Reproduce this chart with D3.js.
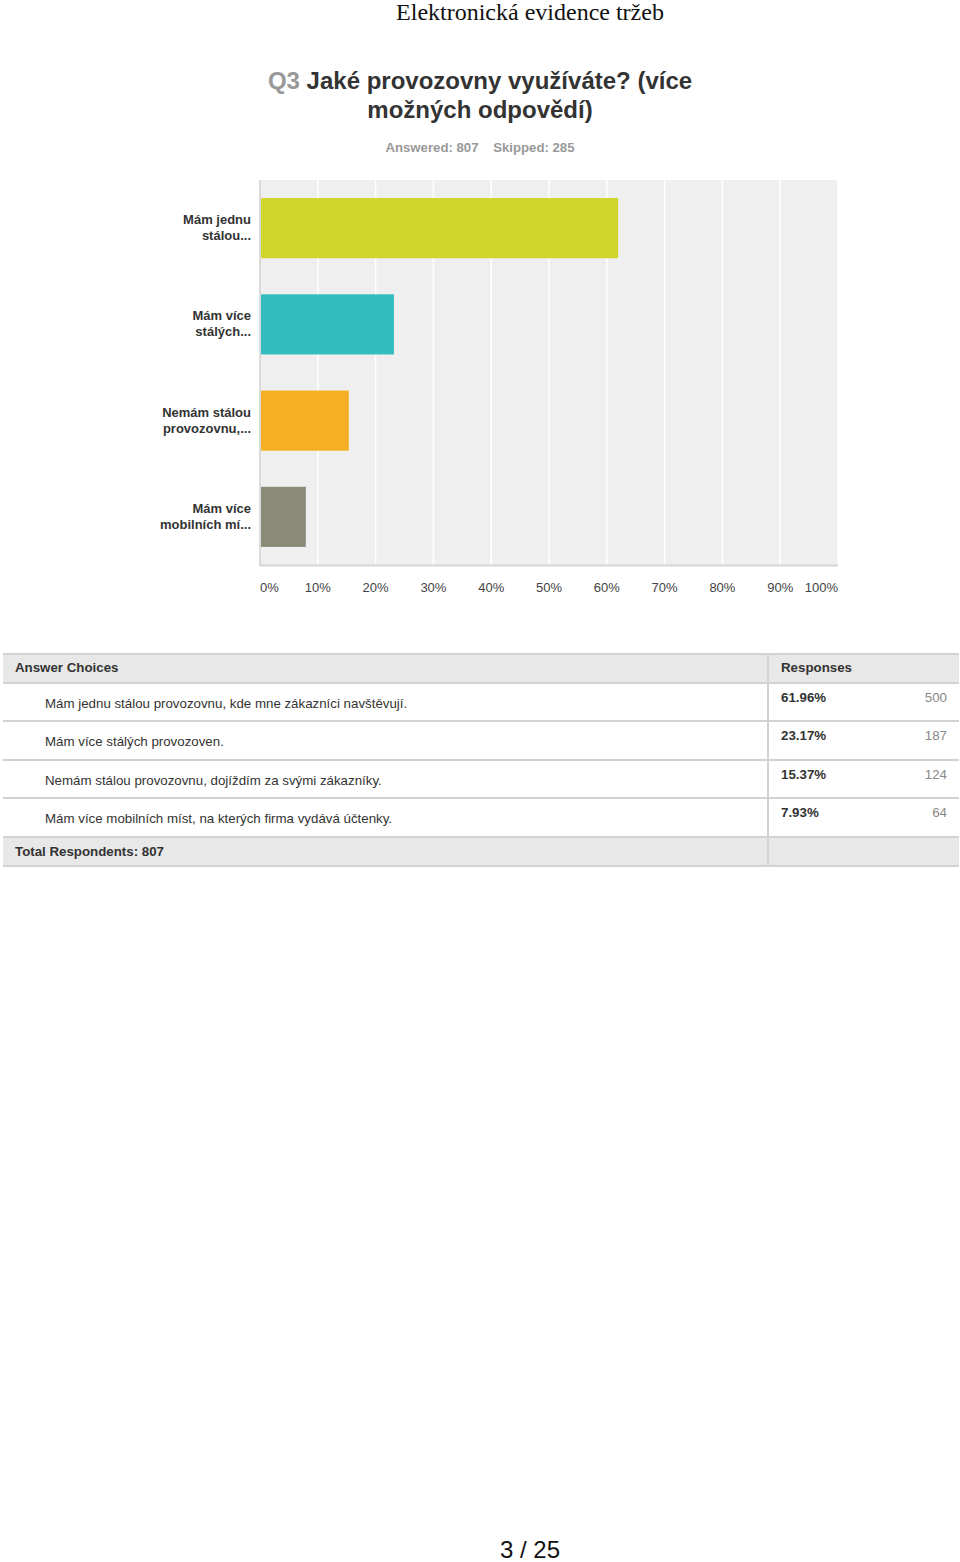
<!DOCTYPE html>
<html><head><meta charset="utf-8">
<script src="https://cdn.jsdelivr.net/npm/d3@7"></script>
<style>body{margin:0;background:#fff}svg{display:block}</style>
</head><body>
<script>
const categories = ["Mám jednu stálou...", "Mám více stálých...", "Nemám stálou provozovnu,...", "Mám více mobilních mí..."];
const labelLines = [["Mám jednu","stálou..."],["Mám více","stálých..."],["Nemám stálou","provozovnu,..."],["Mám více","mobilních mí..."]];
const values = [61.96, 23.17, 15.37, 7.93];
const counts = [500, 187, 124, 64];
const colors = ["#cfd52a", "#33bdbf", "#f5af22", "#8a8a79"];
const fullChoices = ["Mám jednu stálou provozovnu, kde mne zákazníci navštěvují.", "Mám více stálých provozoven.", "Nemám stálou provozovnu, dojíždím za svými zákazníky.", "Mám více mobilních míst, na kterých firma vydává účtenky."];
const tickValues = [0,10,20,30,40,50,60,70,80,90,100];

const W=960,H=1562;
const svg=d3.select("body").append("svg").attr("width",W).attr("height",H);
const sans="Arial, 'Liberation Sans', Helvetica, sans-serif";

// page header
svg.append("text").attr("x",530).attr("y",20).attr("text-anchor","middle")
  .attr("font-family","'Liberation Serif','Times New Roman',serif").attr("font-size",24).attr("fill","#111")
  .text("Elektronická evidence tržeb");

// title
const t1=svg.append("text").attr("x",480).attr("y",89).attr("text-anchor","middle")
  .attr("font-family",sans).attr("font-weight","bold").attr("font-size",24).attr("fill","#333");
t1.append("tspan").attr("fill","#999").text("Q3 ");
t1.append("tspan").text("Jaké provozovny využíváte? (více");
svg.append("text").attr("x",480).attr("y",118).attr("text-anchor","middle")
  .attr("font-family",sans).attr("font-weight","bold").attr("font-size",24).attr("fill","#333")
  .text("možných odpovědí)");
svg.append("text").attr("x",480).attr("y",152).attr("text-anchor","middle")
  .attr("font-family",sans).attr("font-weight","bold").attr("font-size",13.2).attr("fill","#999")
  .attr("xml:space","preserve").text("Answered: 807    Skipped: 285");

// chart
const x=d3.scaleLinear().domain([0,100]).range([260,838]);
const y=d3.scaleBand().domain(categories).range([180,565]).paddingInner(0.375).paddingOuter(0.1875);
svg.append("rect").attr("x",260).attr("y",180).attr("width",578).attr("height",385).attr("fill","#efefef");
svg.append("g").selectAll("line").data(tickValues.slice(1)).join("line")
  .attr("x1",d=>x(d)).attr("x2",d=>x(d)).attr("y1",180).attr("y2",565)
  .attr("stroke","#fff").attr("stroke-width",1.5);
svg.append("g").selectAll("rect").data(categories).join("rect")
  .attr("x",x(0)+1).attr("y",d=>y(d)).attr("height",y.bandwidth())
  .attr("width",(d,i)=>x(values[i])-x(0)-1).attr("fill",(d,i)=>colors[i]);
svg.append("line").attr("x1",260).attr("x2",260).attr("y1",180).attr("y2",566).attr("stroke","#d0d0d0").attr("stroke-width",1.5);
svg.append("line").attr("x1",260).attr("x2",838).attr("y1",565.5).attr("y2",565.5).attr("stroke","#d6d6d6").attr("stroke-width",2);

// x tick labels
svg.append("g").selectAll("text").data(tickValues).join("text")
  .attr("x",d=>x(d))
  .attr("text-anchor",d=>d===0?"start":(d===100?"end":"middle"))
  .attr("y",592).attr("font-family",sans).attr("font-size",13).attr("fill","#444")
  .text(d=>d+"%");

// y labels
const yl=svg.append("g").selectAll("text").data(categories).join("text")
  .attr("text-anchor","end").attr("font-family",sans).attr("font-weight","bold")
  .attr("font-size",13).attr("fill","#333");
yl.each(function(d,i){
  const c=y(d)+y.bandwidth()/2;
  d3.select(this).selectAll("tspan").data(labelLines[i]).join("tspan")
    .attr("x",251).attr("y",(l,j)=>c-4+j*16).text(l=>l);
});

// table
const tb=svg.append("g");
const L=3,R=959,colX=768;
const rowTops=[654,683,721,760,798,837,866];
const fs=13.3;
tb.append("rect").attr("x",L).attr("y",654).attr("width",R-L).attr("height",29).attr("fill","#e8e8e8");
tb.append("rect").attr("x",L).attr("y",837).attr("width",R-L).attr("height",29).attr("fill","#e8e8e8");
rowTops.forEach(yy=>tb.append("line").attr("x1",L).attr("x2",R).attr("y1",yy).attr("y2",yy).attr("stroke","#d2d2d2").attr("stroke-width",2));
tb.append("line").attr("x1",colX).attr("x2",colX).attr("y1",654).attr("y2",866).attr("stroke","#d2d2d2").attr("stroke-width",2);
tb.append("text").attr("x",15).attr("y",672).attr("font-family",sans).attr("font-weight","bold").attr("font-size",fs).attr("fill","#333").text("Answer Choices");
tb.append("text").attr("x",781).attr("y",672).attr("font-family",sans).attr("font-weight","bold").attr("font-size",fs).attr("fill","#333").text("Responses");
fullChoices.forEach((c,i)=>{
  const top=rowTops[i+1];
  tb.append("text").attr("x",45).attr("y",top+25).attr("font-family",sans).attr("font-size",fs).attr("fill","#333").text(c);
  tb.append("text").attr("x",781).attr("y",top+19).attr("font-family",sans).attr("font-weight","bold").attr("font-size",fs).attr("fill","#333").text(values[i].toFixed(2)+"%");
  tb.append("text").attr("x",947).attr("y",top+19).attr("text-anchor","end").attr("font-family",sans).attr("font-size",fs).attr("fill","#888").text(counts[i]);
});
tb.append("text").attr("x",15).attr("y",856).attr("font-family",sans).attr("font-weight","bold").attr("font-size",fs).attr("fill","#333").text("Total Respondents: 807");

// footer
svg.append("text").attr("x",530).attr("y",1558).attr("text-anchor","middle").attr("font-family",sans).attr("font-size",24).attr("fill","#111").text("3 / 25");
</script>
</body></html>
